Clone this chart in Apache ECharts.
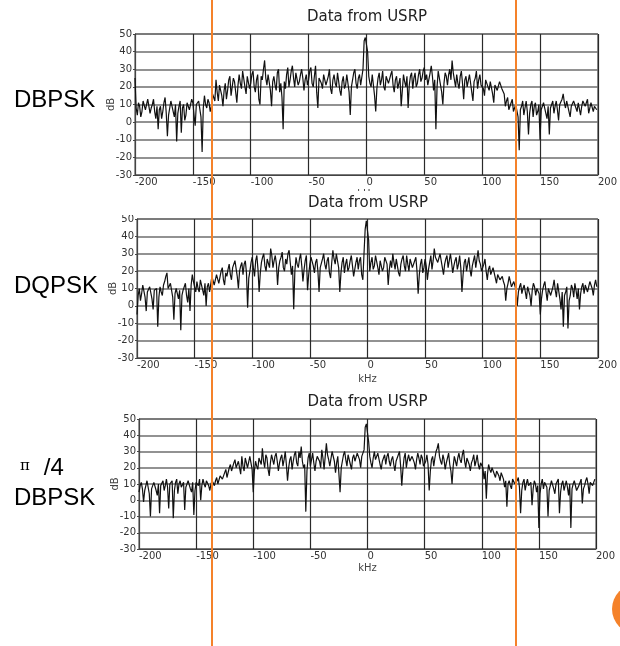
<!DOCTYPE html>
<html><head><meta charset="utf-8">
<script src="https://cdn.jsdelivr.net/npm/echarts@6/dist/echarts.min.js"></script>
<style>html,body{margin:0;padding:0;background:#fff}#c{width:620px;height:646px}</style>
</head><body><div id="c"></div>
<script>
// frequency bins (kHz)
const freqKHz = [
-200,-199,-198,-197,-196,-195,-194,-193,-192,-191,-190,-189,-188,-187,-186,-185,-184,-183,-182,-181,
-180,-179,-178,-177,-176,-175,-174,-173,-172,-171,-170,-169,-168,-167,-166,-165,-164,-163,-162,-161,
-160,-159,-158,-157,-156,-155,-154,-153,-152,-151,-150,-149,-148,-147,-146,-145,-144,-143,-142,-141,
-140,-139,-138,-137,-136,-135,-134,-133,-132,-131,-130,-129,-128,-127,-126,-125,-124,-123,-122,-121,
-120,-119,-118,-117,-116,-115,-114,-113,-112,-111,-110,-109,-108,-107,-106,-105,-104,-103,-102,-101,
-100,-99,-98,-97,-96,-95,-94,-93,-92,-91,-90,-89,-88,-87,-86,-85,-84,-83,-82,-81,
-80,-79,-78,-77,-76,-75,-74,-73,-72,-71,-70,-69,-68,-67,-66,-65,-64,-63,-62,-61,
-60,-59,-58,-57,-56,-55,-54,-53,-52,-51,-50,-49,-48,-47,-46,-45,-44,-43,-42,-41,
-40,-39,-38,-37,-36,-35,-34,-33,-32,-31,-30,-29,-28,-27,-26,-25,-24,-23,-22,-21,
-20,-19,-18,-17,-16,-15,-14,-13,-12,-11,-10,-9,-8,-7,-6,-5,-4,-3,-2,-1,
0,1,2,3,4,5,6,7,8,9,10,11,12,13,14,15,16,17,18,19,
20,21,22,23,24,25,26,27,28,29,30,31,32,33,34,35,36,37,38,39,
40,41,42,43,44,45,46,47,48,49,50,51,52,53,54,55,56,57,58,59,
60,61,62,63,64,65,66,67,68,69,70,71,72,73,74,75,76,77,78,79,
80,81,82,83,84,85,86,87,88,89,90,91,92,93,94,95,96,97,98,99,
100,101,102,103,104,105,106,107,108,109,110,111,112,113,114,115,116,117,118,119,
120,121,122,123,124,125,126,127,128,129,130,131,132,133,134,135,136,137,138,139,
140,141,142,143,144,145,146,147,148,149,150,151,152,153,154,155,156,157,158,159,
160,161,162,163,164,165,166,167,168,169,170,171,172,173,174,175,176,177,178,179,
180,181,182,183,184,185,186,187,188,189,190,191,192,193,194,195,196,197,198,199];

const dbpsk = [
25,8,4,11,9,3,6,12,11,7,10,13,12,5,8,10,13,6,2,9,
-4,7,9,2,6,11,14,5,-8,4,8,12,11,6,3,10,-11,5,9,12,
-6,8,10,1,4,11,12,7,6,13,11,4,-2,10,9,12,13,3,-17,8,
15,10,8,13,11,6,9,16,14,12,24,17,12,21,20,15,9,18,22,13,
18,24,26,15,14,25,23,17,11,21,27,22,19,29,28,20,16,26,25,19,
22,27,29,20,17,24,27,13,10,26,24,30,35,25,21,27,28,18,9,23,
26,21,18,28,30,17,22,14,-4,23,19,27,31,20,24,29,32,25,20,28,
29,21,23,27,30,25,18,24,27,21,24,29,31,22,20,26,32,17,8,25,
25,22,19,27,28,21,22,26,30,19,16,24,27,22,20,28,29,18,15,23,
26,19,21,27,28,17,4,20,24,28,30,22,19,25,27,21,22,30,46,48,
49,40,26,22,20,27,28,15,6,19,25,28,21,24,29,20,18,26,27,22,
23,27,29,21,17,24,26,19,22,25,9,18,27,23,20,26,8,21,26,28,
19,25,28,20,22,27,30,23,25,29,31,24,27,21,22,28,32,26,18,24,
-4,20,29,25,24,17,10,22,28,26,21,27,30,24,35,28,24,20,27,22,
19,26,29,22,13,24,26,20,21,27,28,17,12,23,25,29,19,24,27,21,
22,19,15,24,25,20,18,23,23,16,11,21,22,18,17,23,24,19,20,16,
9,12,14,7,8,11,13,6,5,10,11,3,-16,7,9,12,4,8,12,6,
-7,5,10,12,3,9,11,4,6,10,-10,7,9,11,12,5,2,9,-7,8,
10,12,5,9,12,7,1,10,9,13,16,11,8,12,13,6,3,9,10,12,
13,8,6,11,11,4,9,12,12,9,10,13,5,8,11,12,6,9,10,7];

const dqpsk = [
-5,6,10,3,7,12,11,5,-3,8,9,11,12,4,-2,9,8,10,-12,5,
11,8,6,12,14,17,19,10,9,13,12,5,-8,7,10,11,4,9,-14,6,
9,11,13,6,2,10,-3,12,18,14,11,8,14,10,8,15,12,9,6,13,
0,11,13,8,9,17,16,12,11,18,19,13,14,20,22,15,12,19,17,21,
24,18,15,22,21,26,27,17,10,20,23,25,18,24,26,19,-1,16,20,25,
28,22,17,26,29,21,8,19,25,28,30,23,20,27,27,22,33,29,22,26,
29,24,12,22,26,28,31,22,20,27,24,30,32,25,18,23,-2,20,28,24,
22,27,30,23,14,21,26,29,9,18,24,28,29,23,19,25,27,20,8,22,
23,27,30,24,21,26,28,19,16,25,32,27,24,30,29,22,8,19,25,28,
19,24,27,20,22,26,29,23,17,21,25,28,21,26,28,18,15,30,44,49,
50,38,20,25,28,21,23,29,30,22,18,26,27,20,22,28,29,24,12,21,
26,22,30,25,21,27,28,19,17,24,27,29,23,20,29,24,20,27,26,22,
22,26,28,20,7,18,24,27,19,22,27,23,15,21,25,29,21,26,33,28,
29,25,24,30,31,22,18,24,27,29,22,26,30,25,19,23,26,28,21,24,
29,22,8,18,25,27,20,24,28,21,17,23,26,29,22,27,32,26,24,20,
19,24,27,20,15,21,23,18,17,22,21,16,13,18,19,15,15,17,14,12,
3,10,13,17,16,11,10,14,14,9,0,8,11,13,7,10,12,8,4,11,
10,6,0,9,13,11,6,10,11,7,-5,4,9,12,14,8,3,10,11,6,
7,11,15,9,5,13,12,4,-2,8,-12,6,8,11,-13,3,6,12,10,5,
13,9,4,10,-2,7,11,13,7,12,13,8,9,14,14,10,6,12,15,11];

const pi4dbpsk = [
5,9,11,7,-1,6,9,12,12,4,-10,7,8,11,11,6,3,10,-8,9,
10,12,6,9,13,8,-5,10,9,12,-11,6,11,13,4,10,12,8,7,11,
-6,8,10,12,13,7,5,11,-9,6,11,10,9,13,0,9,13,10,8,12,
11,9,6,10,12,13,9,12,14,10,11,15,16,13,12,17,19,14,15,20,
22,18,17,23,25,20,19,24,23,16,27,21,18,26,25,20,21,27,28,19,
5,18,24,21,19,26,27,22,32,24,20,28,26,19,15,23,28,25,22,27,
29,24,18,23,26,28,21,25,30,22,12,20,25,27,19,24,28,30,23,21,
30,26,33,24,20,22,-7,18,26,29,21,25,29,23,18,24,27,28,24,20,
31,26,19,27,35,28,25,21,22,30,29,24,17,23,27,26,5,20,24,28,
30,25,21,28,27,22,19,26,28,24,23,29,30,25,20,27,26,31,45,47,
48,36,27,23,20,26,30,25,24,29,28,22,19,24,26,28,22,27,29,24,
21,25,27,22,18,24,25,28,30,21,9,19,26,29,20,25,28,24,23,27,
27,23,19,25,29,26,22,28,26,21,20,24,28,22,6,18,25,27,21,26,
30,32,35,27,24,22,28,25,19,23,26,29,22,18,10,21,27,24,21,26,
29,25,23,28,31,24,20,26,27,22,18,23,25,28,21,24,28,22,19,23,
24,20,13,18,1,16,22,19,17,20,21,16,14,18,19,15,12,17,15,13,
8,12,-4,10,12,9,7,13,13,10,9,12,14,8,-8,6,11,13,6,10,
13,9,8,11,-3,7,12,10,5,9,-17,4,10,13,7,11,12,8,-10,6,
9,12,13,7,4,10,11,13,-8,5,10,12,6,9,12,8,3,10,-17,7,
10,12,13,6,5,9,11,13,-2,7,9,12,14,10,4,11,12,9,8,13];

const seriesValues = [dbpsk, dqpsk, pi4dbpsk];
const chartTitles = ['Data from USRP', 'Data from USRP', 'Data from USRP'];
const sideLabels = ['DBPSK', 'DQPSK', '{p|π}/4\nDBPSK'];
const xRange = {min: -200, max: 200, interval: 50};
const yRange = {min: -30, max: 50, interval: 10};
const xName = 'kHz', yName = 'dB';

// layout
const grids = [
  {left: 135, top: 34, width: 464, height: 141},
  {left: 137, top: 219, width: 462, height: 139},
  {left: 139, top: 419, width: 457, height: 130}
];
const titleY = [17, 203, 402];
const kHzGap = [14, 16, 14];
const AX = 'DejaVu Sans';

const chart = echarts.init(document.getElementById('c'), null, {renderer: 'canvas'});

const option = {
  backgroundColor: '#fff',
  animation: false,
  grid: grids.map(g => Object.assign({show: true, borderColor: '#444', borderWidth: 1, containLabel: false}, g)),
  xAxis: grids.map((g, i) => ({
    type: 'value', gridIndex: i, min: xRange.min, max: xRange.max, interval: xRange.interval,
    name: xName, nameLocation: 'middle', nameGap: kHzGap[i], nameMoveOverlap: false,
    nameTextStyle: {fontFamily: AX, fontSize: 10, color: '#444'},
    axisLine: {show: true, onZero: false, lineStyle: {color: '#444', width: 1}},
    axisTick: {show: false},
    axisLabel: {fontFamily: AX, fontSize: 10, color: '#333', align: 'left', margin: 2, showMaxLabel: true, showMinLabel: true},
    splitLine: {show: true, lineStyle: {color: '#2a2a2a', width: 1.2}}
  })),
  yAxis: grids.map((g, i) => ({
    type: 'value', gridIndex: i, min: yRange.min, max: yRange.max, interval: yRange.interval,
    name: yName, nameLocation: 'middle', nameGap: 19, nameRotate: 90, nameMoveOverlap: false,
    nameTextStyle: {fontFamily: AX, fontSize: 10, color: '#444'},
    axisLine: {show: true, onZero: false, lineStyle: {color: '#444', width: 1}},
    axisTick: {show: true, length: 2, lineStyle: {color: '#444'}},
    axisLabel: {fontFamily: AX, fontSize: 10, color: '#333', margin: 3},
    splitLine: {show: true, lineStyle: {color: '#6e6e6e', width: 1.6}}
  })),
  series: seriesValues.map((vals, i) => ({
    type: 'line', xAxisIndex: i, yAxisIndex: i,
    data: freqKHz.map((f, k) => [f, vals[k]]),
    showSymbol: false, symbol: 'none', clip: true, sampling: null,
    lineStyle: {color: '#111', width: 1.2},
    z: 3
  })),
  graphic: {
    elements: [].concat(
      // cover for the clipped kHz label of the first panel (second panel image overlaps it)
      [{type: 'rect', z: 50, shape: {x: 120, y: 191, width: 500, height: 24}, style: {fill: '#fff'}}],
      grids.map((g, i) => ({
        type: 'text', z: 60,
        style: {text: chartTitles[i], x: g.left + g.width / 2, y: titleY[i],
          textAlign: 'center', align: 'center', textVerticalAlign: 'middle', verticalAlign: 'middle',
          font: '15px "DejaVu Sans"', fill: '#222'}
      })),
      [
        {type: 'text', z: 60, style: {text: sideLabels[0], x: 14, y: 100, verticalAlign: 'middle', textVerticalAlign: 'middle',
          font: '24px "Liberation Sans"', fill: '#000'}},
        {type: 'text', z: 60, style: {text: sideLabels[1], x: 14, y: 286, verticalAlign: 'middle', textVerticalAlign: 'middle',
          font: '24px "Liberation Sans"', fill: '#000'}},
        {type: 'text', z: 60, style: {text: sideLabels[2], x: 14, y: 483, verticalAlign: 'middle', textVerticalAlign: 'middle',
          font: '24px "Liberation Sans"', fill: '#000', lineHeight: 30,
          rich: {p: {fontFamily: 'DejaVu Serif', fontSize: 15, padding: [0, 14, 4, 6]}}}},
        {type: 'line', z: 100, shape: {x1: 212, y1: 0, x2: 212, y2: 646}, style: {stroke: '#F5822A', lineWidth: 2}},
        {type: 'line', z: 100, shape: {x1: 516, y1: 0, x2: 516, y2: 646}, style: {stroke: '#F5822A', lineWidth: 2}},
        {type: 'circle', z: 100, shape: {cx: 637, cy: 609, r: 25}, style: {fill: '#F5822A'}}
      ]
    )
  }
};
chart.setOption(option);
</script>
</body></html>
